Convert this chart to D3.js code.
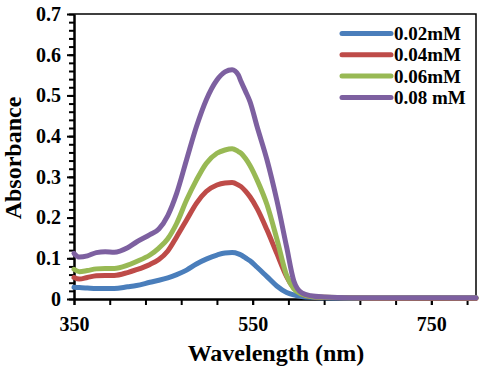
<!DOCTYPE html>
<meta charset="utf-8">
<style>
body { margin: 0; background: #fff; }
.chart text { font-family: "Liberation Serif", "Times New Roman", serif; font-weight: bold; fill: #000; }
.axis path, .axis line { stroke: #000; stroke-width: 2; }
.axis .tick text { font-size: 20px; }
</style>
<svg class="chart" width="480" height="373"></svg>
<script src="https://cdn.jsdelivr.net/npm/d3@7/dist/d3.min.js"></script>
<script>

// wavelength (nm) sampled along the spectra
var wavelength = [350,356,365,375,385,395,410,420,435,445,455,465,476,487,498,510,519,527,534,537,542,547,555,566,577,588,596,605,615,630,660,700,750,800];

var abs002 = [0.029,0.028,0.027,0.026,0.026,0.026,0.030,0.033,0.041,0.046,0.052,0.060,0.071,0.086,0.098,0.108,0.113,0.114,0.111,0.108,0.101,0.094,0.078,0.055,0.032,0.016,0.010,0.006,0.004,0.003,0.002,0.002,0.003,0.002];
var abs004 = [0.053,0.049,0.053,0.057,0.058,0.058,0.065,0.072,0.085,0.097,0.118,0.153,0.194,0.235,0.264,0.280,0.285,0.286,0.280,0.276,0.265,0.251,0.222,0.170,0.112,0.055,0.027,0.012,0.006,0.004,0.003,0.002,0.002,0.002];
var abs006 = [0.073,0.067,0.070,0.074,0.075,0.075,0.083,0.092,0.108,0.125,0.148,0.186,0.243,0.292,0.333,0.358,0.366,0.369,0.362,0.358,0.345,0.328,0.292,0.232,0.148,0.058,0.025,0.012,0.006,0.004,0.003,0.003,0.003,0.003];
var abs008 = [0.112,0.103,0.106,0.114,0.116,0.115,0.126,0.140,0.158,0.172,0.205,0.260,0.342,0.423,0.489,0.538,0.558,0.563,0.550,0.534,0.510,0.485,0.423,0.342,0.243,0.128,0.045,0.015,0.008,0.005,0.003,0.003,0.003,0.003];

var seriesNames = ["0.02mM", "0.04mM", "0.06mM", "0.08 mM"];
var seriesColors = ["#4a7ebb", "#be4b48", "#98b954", "#7d60a0"];
var xTicksMajor = [350, 550, 750];
var yTicksMajor = [0, 0.1, 0.2, 0.3, 0.4, 0.5, 0.6, 0.7];

function draw() {

var svg = d3.select(".chart");
var mLeft = 74, mRight = 476, mTop = 14, mBottom = 299;

var x = d3.scaleLinear().domain([350, 800]).range([mLeft, mRight]);
var y = d3.scaleLinear().domain([0, 0.7]).range([mBottom, mTop]);

// frame (top and right)
svg.append("path")
  .attr("d", "M" + mLeft + "," + mTop + "H" + mRight + "V" + mBottom)
  .attr("fill", "none").attr("stroke", "#000").attr("stroke-width", 1.5);

// minor ticks
var xMinor = d3.range(350, 800, 40);
var yMinor = d3.range(0, 0.701, 0.02);

svg.append("g").attr("class", "axis")
  .attr("transform", "translate(0," + mBottom + ")")
  .call(d3.axisBottom(x).tickValues(xMinor).tickSize(6).tickSizeOuter(0).tickFormat(""));
svg.append("g").attr("class", "axis")
  .attr("transform", "translate(0," + mBottom + ")")
  .call(d3.axisBottom(x).tickValues(xTicksMajor).tickSize(6).tickSizeOuter(0).tickPadding(12).tickFormat(d3.format("d")));

svg.append("g").attr("class", "axis")
  .attr("transform", "translate(" + mLeft + ",0)")
  .call(d3.axisLeft(y).tickValues(yMinor).tickSize(5).tickSizeOuter(0).tickFormat(""));
svg.append("g").attr("class", "axis")
  .attr("transform", "translate(" + mLeft + ",0)")
  .call(d3.axisLeft(y).tickValues(yTicksMajor).tickSize(7).tickSizeOuter(0).tickPadding(6)
    .tickFormat(function(d) { return d === 0 ? "0" : d3.format(".1f")(d); }));

// curves
var series = [abs002, abs004, abs006, abs008];
var line = d3.line()
  .x(function(d, i) { return x(wavelength[i]); })
  .y(function(d) { return y(d); })
  .curve(d3.curveMonotoneX);

svg.append("g").selectAll("path")
  .data(series)
  .enter().append("path")
  .attr("d", line)
  .attr("fill", "none")
  .attr("stroke", function(d, i) { return seriesColors[i]; })
  .attr("stroke-width", 5)
  .attr("stroke-linejoin", "round")
  .attr("stroke-linecap", "round");

// axis titles
svg.append("text")
  .attr("x", 276).attr("y", 361)
  .attr("text-anchor", "middle").style("font-size", "24px")
  .text("Wavelength (nm)");

svg.append("text")
  .attr("transform", "translate(21,158) rotate(-90)")
  .attr("text-anchor", "middle").style("font-size", "24px")
  .text("Absorbance");

// legend
var legend = svg.append("g").selectAll("g")
  .data(seriesNames)
  .enter().append("g")
  .attr("transform", function(d, i) { return "translate(342," + (33.5 + i * 21.3) + ")"; });

legend.append("line")
  .attr("x1", 0).attr("x2", 49)
  .attr("stroke", function(d, i) { return seriesColors[i]; })
  .attr("stroke-width", 5).attr("stroke-linecap", "round");

legend.append("text")
  .attr("x", 52).attr("dy", "0.35em")
  .style("font-size", "19px")
  .text(function(d) { return d; });

}

draw();

</script>
